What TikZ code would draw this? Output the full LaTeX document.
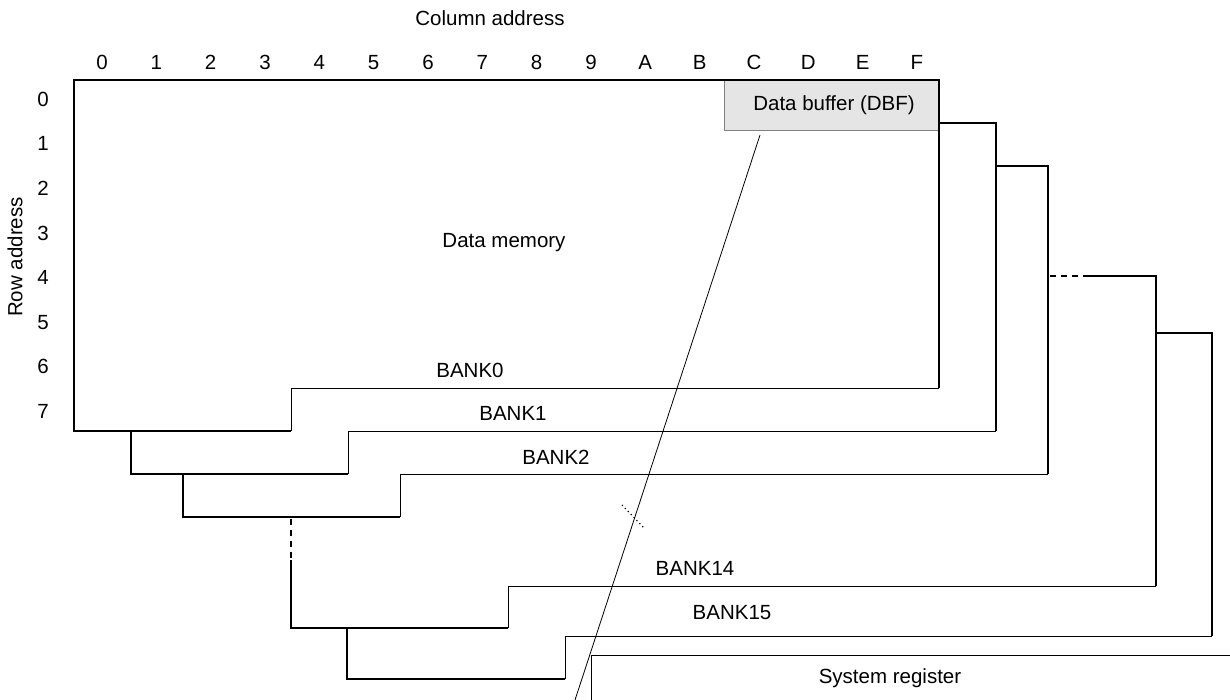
\documentclass[tikz,border=0pt]{standalone}
\usepackage{fontspec}
\setmainfont{Liberation Sans}
\begin{document}
\begin{tikzpicture}[x=1pt,y=-1pt,
  thickline/.style={line width=2.2pt, line join=miter},
  thinline/.style={line width=0.9pt, line join=miter},
  thickdash/.style={line width=2.2pt, dash pattern=on 6pt off 5pt},
  lbl/.style={font=\fontsize{20.5}{24}\selectfont, inner sep=0pt, anchor=center},
  digit/.style={lbl, text height=14.7pt, text depth=0pt},
]
\useasboundingbox (0,0) rectangle (1230,700);
\fill[white] (0,0) rectangle (1230,700);

% labels of axes
\node[lbl] (coladdr) at (490,18) {Column address};
\foreach \c [count=\i from 0] in {0,1,2,3,4,5,6,7,8,9,A,B,C,D,E,F}
  \node[digit] (col\i) at ({102+54.33*\i},62) {\c};
\foreach \r in {0,...,7}
  \node[digit] (row\r) at (43,{99+44.6*\r}) {\r};
\node[lbl, rotate=90] (rowaddr) at (15,257) {Row address};

% data buffer
\fill[black!10] (724,80) rectangle (939,130);
\draw[black!50, thinline] (724,80) -- (724,130) -- (939,130);
\node[lbl] (dbf) at (834,105) {Data buffer (DBF)};

% BANK0
\draw[thickline] (291,431) -- (74,431) -- (74,80) -- (939,80) -- (939,388);
\draw[thinline] (939,388) -- (291,388) -- (291,431);
% BANK1
\draw[thickline] (348,474) -- (131,474) -- (131,431);
\draw[thickline] (939,123) -- (996,123) -- (996,431);
\draw[thinline] (996,431) -- (348,431) -- (348,474);
% BANK2
\draw[thickline] (400,517) -- (183,517) -- (183,474);
\draw[thickline] (996,166) -- (1048,166) -- (1048,474);
\draw[thinline] (1048,474) -- (400,474) -- (400,517);
% BANK14
\draw[thickdash] (291,519) -- (291,560);
\draw[thickline] (291,560) -- (291,628) -- (508,628);
\draw[thinline] (508,628) -- (508,586) -- (1156,586);
\draw[thickline] (1156,586) -- (1156,276) -- (1085,276);
\draw[thickdash] (1050,276) -- (1085,276);
% BANK15
\draw[thickline] (347,628) -- (347,679) -- (565,679);
\draw[thinline] (565,679) -- (565,636) -- (1212,636);
\draw[thickline] (1212,636) -- (1212,333) -- (1156,333);
% System register
\draw[thinline] (1232,655) -- (591,655) -- (591,702);
\node[lbl] (sysreg) at (890,678) {System register};

% break line and marker
\coordinate (brkA) at (760,135);
\coordinate (brkB) at (575,700);
\draw[line width=0.8pt] (brkA) -- (brkB);
\coordinate (dotA) at (622,505);
\coordinate (dotB) at (645,529);
\draw[line width=1.2pt, dash pattern=on 1.2pt off 3pt] (dotA) -- (dotB);

% texts
\node[lbl] (mem) at (504,243) {Data memory};
\node[lbl] (b0) at (470,370) {BANK0};
\node[lbl] (b1) at (513,413) {BANK1};
\node[lbl] (b2) at (556,457) {BANK2};
\node[lbl] (b14) at (695,568) {BANK14};
\node[lbl] (b15) at (732,613) {BANK15};
\end{tikzpicture}
\end{document}
